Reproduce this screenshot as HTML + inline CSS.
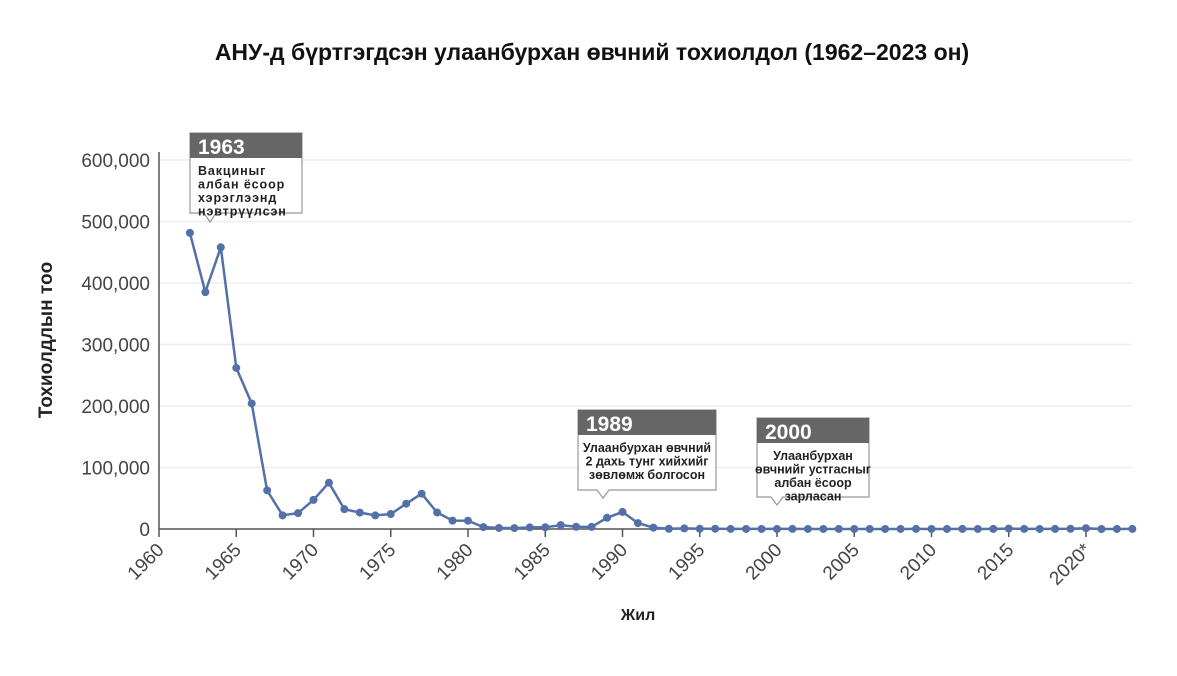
<!DOCTYPE html>
<html><head><meta charset="utf-8"><style>
html,body{margin:0;padding:0;background:#fff;}
svg{display:block;font-family:"Liberation Sans","DejaVu Sans",sans-serif;}
</style></head><body>
<svg id="s" width="1177" height="676" viewBox="0 0 1177 676">
<text x="592" y="60" text-anchor="middle" font-size="23" font-weight="bold" fill="#111">АНУ-д бүртгэгдсэн улаанбурхан өвчний тохиолдол (1962–2023 он)</text>
<text transform="translate(52,340) rotate(-90)" text-anchor="middle" font-size="19" font-weight="bold" fill="#222">Тохиолдлын тоо</text>
<text x="638" y="620" text-anchor="middle" font-size="16" font-weight="bold" fill="#222">Жил</text>
<g id="g"></g>
</svg>
<script>
var ns="http://www.w3.org/2000/svg",g=document.getElementById('g');
function el(t,a,txt){var e=document.createElementNS(ns,t);for(var k in a)e.setAttribute(k,a[k]);if(txt!=null)e.textContent=txt;g.appendChild(e);return e;}
var X0=159,PX=15.45,Y0=529,PY=0.000615;
function xp(y){return X0+(y-1960)*PX;}function yp(v){return Y0-v*PY;}
for(var i=1;i<=6;i++){var y=yp(i*100000);el('line',{x1:X0,x2:1132,y1:y,y2:y,stroke:'#eee','stroke-width':1.5});
el('text',{x:150,y:y+7,'text-anchor':'end','font-size':19,fill:'#444'},(i*100)+',000');}
el('text',{x:150,y:Y0+7,'text-anchor':'end','font-size':19,fill:'#444'},'0');
el('line',{x1:X0,x2:X0,y1:152,y2:Y0,stroke:'#555','stroke-width':1.5});
el('line',{x1:X0,x2:1132,y1:Y0,y2:Y0,stroke:'#555','stroke-width':1.5});
for(var yr=1960;yr<=2020;yr+=5){var x=xp(yr);el('line',{x1:x,x2:x,y1:Y0,y2:Y0+8,stroke:'#555','stroke-width':1.5});
el('text',{transform:'translate('+(x+6)+','+(Y0+22)+') rotate(-45)','text-anchor':'end','font-size':19,fill:'#444'},yr==2020?'2020*':String(yr));}
var d=[481530,385156,458083,261904,204136,62705,22231,25826,47351,75290,32275,26690,22094,24374,41126,57345,26871,13597,13506,3124,1714,1497,2587,2822,6282,3655,3396,18193,27786,9643,2237,312,963,309,508,138,100,100,86,116,55,44,56,37,66,55,43,140,71,63,220,55,187,667,188,86,120,375,1274,13,49,121,59,150];
var pts=[];for(var i=0;i<62;i++)pts.push(xp(1962+i).toFixed(1)+','+yp(d[i]).toFixed(1));
el('polyline',{points:pts.join(' '),fill:'none',stroke:'#5470a8','stroke-width':2.5});
for(var i=0;i<62;i++)el('circle',{cx:xp(1962+i),cy:yp(d[i]),r:4,fill:'#5470a8'});
function call(x,y,w,h,px,py,yr,lines,center){
 el('path',{d:'M'+x+','+y+' h'+w+' v'+h+' H'+(px+6)+' L'+px+','+py+' L'+(px-6)+','+(y+h)+' H'+x+' Z',fill:'#fff',stroke:'#999','stroke-width':1.2});
 el('rect',{x:x,y:y,width:w,height:25,fill:'#666'});
 el('text',{x:x+8,y:y+21,'font-size':21,'font-weight':'bold',fill:'#fff'},yr);
 for(var i=0;i<lines.length;i++)el('text',{x:center?x+w/2:x+8,y:y+42+i*13.5,'text-anchor':center?'middle':'start','font-size':12.5,'font-weight':'bold',fill:'#222','letter-spacing':center?0:0.9},lines[i]);
}
call(190,133,112,80,210,222,'1963',['Вакциныг','албан ёсоор','хэрэглээнд','нэвтрүүлсэн'],0);
call(578,410,138,80,603,498,'1989',['Улаанбурхан өвчний','2 дахь тунг хийхийг','зөвлөмж болгосон'],1);
call(757,418,112,79,777,505,'2000',['Улаанбурхан','өвчнийг устгасныг','албан ёсоор','зарласан'],1);
</script>
</body></html>
